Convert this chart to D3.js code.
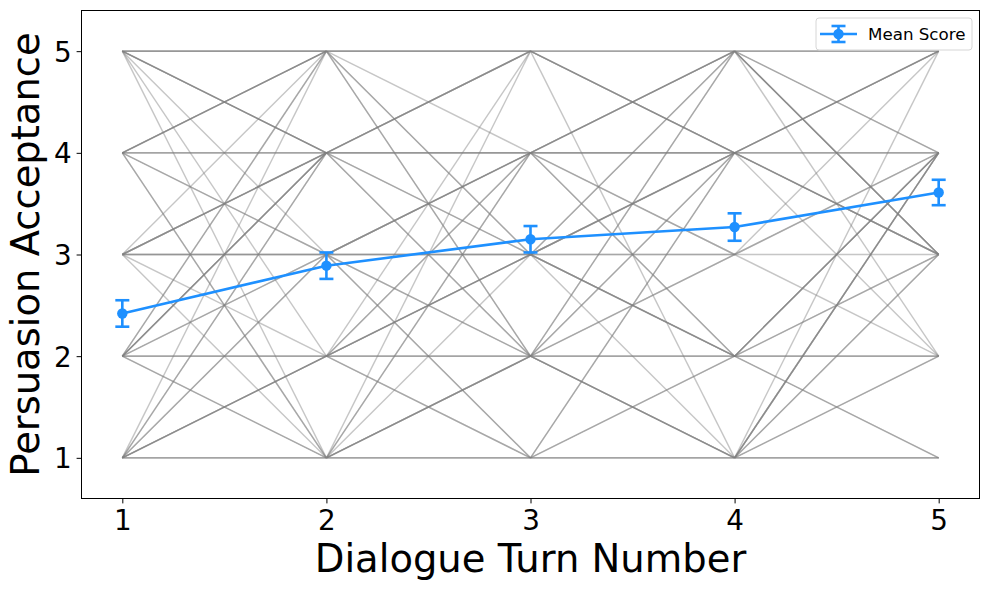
<!DOCTYPE html>
<html>
<head>
<meta charset="utf-8">
<script src="https://cdn.jsdelivr.net/npm/d3@7/dist/d3.min.js"></script>
<style>
  html, body { margin: 0; padding: 0; background: #fff; }
  svg { display: block; font-family: "DejaVu Sans", sans-serif; }
</style>
</head>
<body>
<div id="chart"></div>
<script>
/** Data */
const turns = [1, 2, 3, 4, 5];
const scoreTicks = [1, 2, 3, 4, 5];
const meanScores = [2.42, 2.89, 3.15, 3.27, 3.61];
const meanErrors = [0.13, 0.13, 0.13, 0.135, 0.125];

// individual transitions between consecutive turns: [from score, to score, count]
const transitions12 = [
  [5, 5, 4], [5, 4, 4], [5, 3, 1], [5, 2, 1], [5, 1, 1],
  [4, 5, 4], [4, 4, 3], [4, 3, 2], [4, 1, 2],
  [3, 5, 1], [3, 4, 4], [3, 3, 3], [3, 2, 1], [3, 1, 1],
  [2, 5, 2], [2, 4, 4], [2, 3, 2], [2, 2, 3], [2, 1, 2],
  [1, 5, 1], [1, 4, 2], [1, 3, 2], [1, 2, 4], [1, 1, 3],
];
const transitions23 = [
  [5, 5, 4], [5, 4, 1], [5, 3, 2], [5, 2, 2],
  [4, 5, 4], [4, 4, 4], [4, 3, 2], [4, 2, 2],
  [3, 4, 4], [3, 3, 3], [3, 2, 2], [3, 1, 2],
  [2, 5, 1], [2, 4, 2], [2, 3, 4], [2, 2, 3], [2, 1, 2],
  [1, 5, 1], [1, 4, 2], [1, 3, 1], [1, 2, 4], [1, 1, 3],
];
const transitions34 = [
  [5, 5, 3], [5, 4, 4], [5, 1, 1],
  [4, 5, 4], [4, 4, 4], [4, 3, 2], [4, 2, 2],
  [3, 5, 2], [3, 4, 4], [3, 3, 2], [3, 2, 4], [3, 1, 1],
  [2, 5, 2], [2, 4, 2], [2, 3, 2], [2, 2, 3], [2, 1, 4],
  [1, 4, 2], [1, 2, 2], [1, 1, 3],
];
const transitions45 = [
  [5, 5, 3], [5, 4, 2], [5, 3, 4], [5, 2, 1],
  [4, 5, 4], [4, 4, 3], [4, 3, 4], [4, 2, 1],
  [3, 5, 1], [3, 4, 2], [3, 3, 1], [3, 2, 1],
  [2, 4, 4], [2, 3, 2], [2, 2, 3], [2, 1, 2],
  [1, 5, 1], [1, 4, 4], [1, 3, 2], [1, 2, 2], [1, 1, 3],
];
const transitions = [transitions12, transitions23, transitions34, transitions45];

/** Layout */
const width = 989;
const height = 590;
const plot = { left: 81.5, right: 979.5, top: 10.5, bottom: 498.5 };
const blue = "#1e90ff";

const svg = d3.select("#chart").append("svg")
  .attr("width", width)
  .attr("height", height);

const x = d3.scaleLinear().domain([0.8, 5.2]).range([plot.left, plot.right]);
const y = d3.scaleLinear().domain([0.6, 5.4]).range([plot.bottom, plot.top]);

/** Individual trajectories (stacked translucent gray) */
const segs = [];
transitions.forEach((list, i) => {
  list.forEach(([a, b, n]) => {
    for (let k = 0; k < n; k++) segs.push({ x0: turns[i], x1: turns[i + 1], a, b });
  });
});

svg.append("g")
  .selectAll("line")
  .data(segs)
  .join("line")
  .attr("x1", (d) => x(d.x0))
  .attr("x2", (d) => x(d.x1))
  .attr("y1", (d) => y(d.a))
  .attr("y2", (d) => y(d.b))
  .attr("stroke", "#808080")
  .attr("stroke-opacity", 0.45)
  .attr("stroke-width", 1.4);

/** Mean score with error bars */
const means = turns.map((t, i) => ({ t, m: meanScores[i], e: meanErrors[i] }));
const g = svg.append("g");

g.append("path")
  .datum(means)
  .attr("fill", "none")
  .attr("stroke", blue)
  .attr("stroke-width", 2.6)
  .attr("d", d3.line().x((d) => x(d.t)).y((d) => y(d.m)));

const eb = g.selectAll("g.eb").data(means).join("g").attr("class", "eb");
eb.append("line")
  .attr("x1", (d) => x(d.t)).attr("x2", (d) => x(d.t))
  .attr("y1", (d) => y(d.m - d.e)).attr("y2", (d) => y(d.m + d.e))
  .attr("stroke", blue).attr("stroke-width", 2.6);
[-1, 1].forEach((s) => {
  eb.append("line")
    .attr("x1", (d) => x(d.t) - 7).attr("x2", (d) => x(d.t) + 7)
    .attr("y1", (d) => y(d.m + s * d.e)).attr("y2", (d) => y(d.m + s * d.e))
    .attr("stroke", blue).attr("stroke-width", 2.6);
});
eb.append("circle")
  .attr("cx", (d) => x(d.t)).attr("cy", (d) => y(d.m))
  .attr("r", 5.2).attr("fill", blue);

/** Axes */
const xAxis = svg.append("g")
  .attr("transform", `translate(0,${plot.bottom})`)
  .call(d3.axisBottom(x).tickValues(turns).tickFormat(d3.format("d")).tickSize(4.9).tickPadding(5));
const yAxis = svg.append("g")
  .attr("transform", `translate(${plot.left},0)`)
  .call(d3.axisLeft(y).tickValues(scoreTicks).tickFormat(d3.format("d")).tickSize(4.9).tickPadding(5));

[xAxis, yAxis].forEach((ax) => {
  ax.select(".domain").remove();
  ax.selectAll(".tick line").attr("stroke", "#000").attr("stroke-width", 1);
  ax.selectAll(".tick text")
    .attr("fill", "#000")
    .style("font-size", "27.8px")
    .style("font-family", "DejaVu Sans");
});
xAxis.selectAll(".tick text").attr("dy", "0.76em");
yAxis.selectAll(".tick text").attr("dy", "0.36em");

/** Spines */
svg.append("rect")
  .attr("x", plot.left).attr("y", plot.top)
  .attr("width", plot.right - plot.left).attr("height", plot.bottom - plot.top)
  .attr("fill", "none").attr("stroke", "#000").attr("stroke-width", 1);

/** Axis labels */
svg.append("text")
  .attr("x", (plot.left + plot.right) / 2)
  .attr("y", 572)
  .attr("text-anchor", "middle")
  .style("font-size", "38.5px")
  .text("Dialogue Turn Number");

svg.append("text")
  .attr("transform", `translate(39,${(plot.top + plot.bottom) / 2}) rotate(-90)`)
  .attr("text-anchor", "middle")
  .style("font-size", "38.5px")
  .text("Persuasion Acceptance");

/** Legend */
const lg = svg.append("g").attr("transform", "translate(816,18)");
lg.append("rect")
  .attr("width", 156).attr("height", 32).attr("rx", 3)
  .attr("fill", "#fff").attr("fill-opacity", 0.8)
  .attr("stroke", "#d6d6d6").attr("stroke-width", 1);
lg.append("line").attr("x1", 4).attr("x2", 41).attr("y1", 16).attr("y2", 16)
  .attr("stroke", blue).attr("stroke-width", 2.6);
lg.append("line").attr("x1", 22.5).attr("x2", 22.5).attr("y1", 8).attr("y2", 24)
  .attr("stroke", blue).attr("stroke-width", 2.6);
[8, 24].forEach((cy) => {
  lg.append("line").attr("x1", 15.5).attr("x2", 29.5).attr("y1", cy).attr("y2", cy)
    .attr("stroke", blue).attr("stroke-width", 2.6);
});
lg.append("circle").attr("cx", 22.5).attr("cy", 16).attr("r", 5.2).attr("fill", blue);
lg.append("text").attr("x", 52).attr("y", 22)
  .style("font-size", "16.7px")
  .text("Mean Score");
</script>
</body>
</html>
